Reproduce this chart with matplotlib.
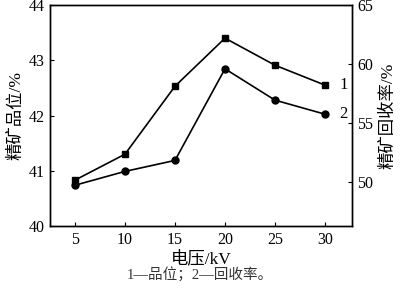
import matplotlib
matplotlib.use("Agg")
import matplotlib.pyplot as plt

plt.rcParams['font.family'] = ['Liberation Serif', 'Noto Sans CJK SC']

# data
voltage = [5, 10, 15, 20, 25, 30]
grade = [40.83, 41.30, 42.53, 43.40, 42.91, 42.55]       # curve 1, left axis
recovery = [49.75, 50.92, 51.85, 59.60, 56.95, 55.76]    # curve 2, right axis
xticks = [5, 10, 15, 20, 25, 30]
left_ticks = [40, 41, 42, 43, 44]
right_ticks = [50, 55, 60, 65]

fig = plt.figure(figsize=(4.0, 2.92), dpi=100)
ax = fig.add_axes([50/400, 1 - 226/292, 302/400, 221/292])
ax2 = ax.twinx()

ax.plot(voltage, grade, 'k-', marker='s', ms=4.5, lw=1.2)
ax2.plot(voltage, recovery, 'k-', marker='o', ms=5, lw=1.2)

ax.set_xlim(2.5, 32.7)
ax.set_ylim(40, 44)
ax2.set_ylim(46.3, 65)
ax.set_xticks(xticks)
ax.set_yticks(left_ticks)
ax2.set_yticks(right_ticks)

for a in (ax, ax2):
    a.tick_params(direction='in', length=3, width=0.8, labelsize=11.5, pad=4)
    for s in a.spines.values():
        s.set_linewidth(1.0)

ax.set_ylabel('精矿品位/%', fontsize=12.5, fontweight='medium', labelpad=3)
ax2.set_ylabel('精矿回收率/%', fontsize=12.5, fontweight='medium', rotation=90, labelpad=5)
ax.set_xlabel('电压/kV', fontsize=12.5, fontweight='medium', labelpad=2)

ax.text(31.4, grade[-1], '1', fontsize=12, va='center', ha='left')
ax2.text(31.4, recovery[-1], '2', fontsize=12, va='center', ha='left')

fig.text(0.5, 1 - 275/292, '1—品位；2—回收率。', fontsize=10.5, color='#333333',
         ha='center', va='center')

fig.savefig('out.png', dpi=100)
